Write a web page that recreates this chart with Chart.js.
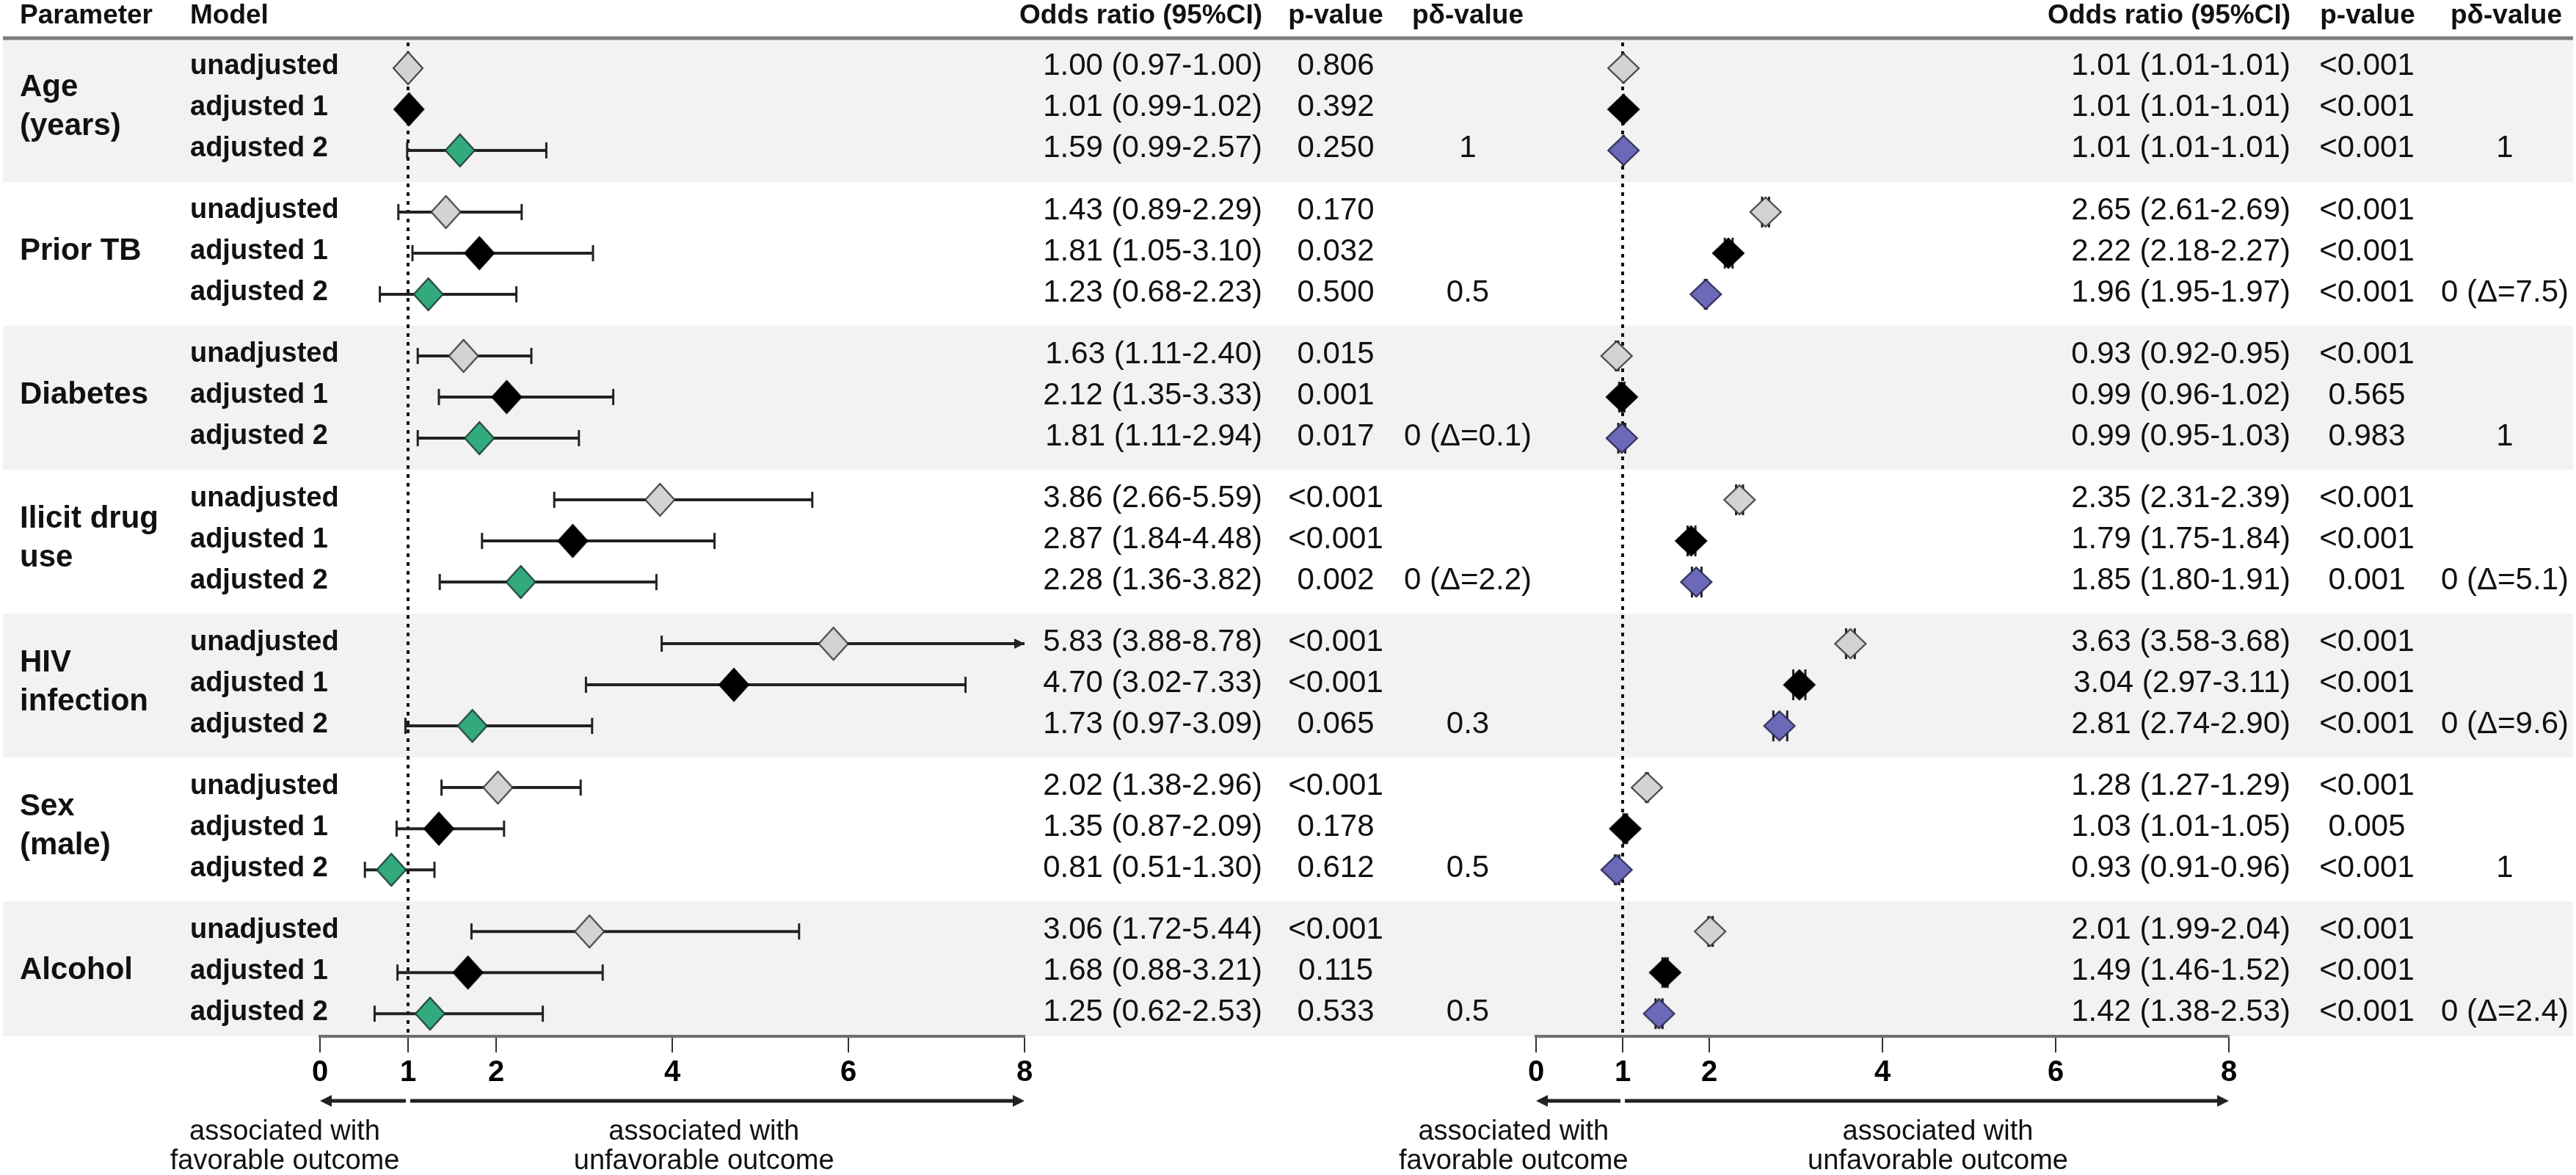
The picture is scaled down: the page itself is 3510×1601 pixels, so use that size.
<!DOCTYPE html>
<html>
<head>
<meta charset="utf-8">
<script src="https://cdn.jsdelivr.net/npm/chart.js@4.4.1/dist/chart.umd.min.js"></script>
<style>
  html, body { margin: 0; padding: 0; background: #fff; }
  canvas { display: block; }
</style>
</head>
<body>
<canvas id="forest" width="3510" height="1601"></canvas>
<script>
const FONT = '"Liberation Sans", Arial, sans-serif';

// ---- data ----
const parameters = [["Age", "(years)"], ["Prior TB"], ["Diabetes"], ["Ilicit drug", "use"], ["HIV", "infection"], ["Sex", "(male)"], ["Alcohol"]];
const models = ["unadjusted", "adjusted 1", "adjusted 2"];
const tickValues = [0, 1, 2, 4, 6, 8];

// left panel (rows = parameter, columns = model)
const orLeft = [[1.00, 1.01, 1.59], [1.43, 1.81, 1.23], [1.63, 2.12, 1.81], [3.86, 2.87, 2.28], [5.83, 4.70, 1.73], [2.02, 1.35, 0.81], [3.06, 1.68, 1.25]];
const loLeft = [[0.97, 0.99, 0.99], [0.89, 1.05, 0.68], [1.11, 1.35, 1.11], [2.66, 1.84, 1.36], [3.88, 3.02, 0.97], [1.38, 0.87, 0.51], [1.72, 0.88, 0.62]];
const hiLeft = [[1.00, 1.02, 2.57], [2.29, 3.10, 2.23], [2.40, 3.33, 2.94], [5.59, 4.48, 3.82], [8.78, 7.33, 3.09], [2.96, 2.09, 1.30], [5.44, 3.21, 2.53]];
const ciLeft = [
  ["1.00 (0.97-1.00)", "1.01 (0.99-1.02)", "1.59 (0.99-2.57)"],
  ["1.43 (0.89-2.29)", "1.81 (1.05-3.10)", "1.23 (0.68-2.23)"],
  ["1.63 (1.11-2.40)", "2.12 (1.35-3.33)", "1.81 (1.11-2.94)"],
  ["3.86 (2.66-5.59)", "2.87 (1.84-4.48)", "2.28 (1.36-3.82)"],
  ["5.83 (3.88-8.78)", "4.70 (3.02-7.33)", "1.73 (0.97-3.09)"],
  ["2.02 (1.38-2.96)", "1.35 (0.87-2.09)", "0.81 (0.51-1.30)"],
  ["3.06 (1.72-5.44)", "1.68 (0.88-3.21)", "1.25 (0.62-2.53)"]
];
const pLeft = [["0.806", "0.392", "0.250"], ["0.170", "0.032", "0.500"], ["0.015", "0.001", "0.017"], ["<0.001", "<0.001", "0.002"], ["<0.001", "<0.001", "0.065"], ["<0.001", "0.178", "0.612"], ["<0.001", "0.115", "0.533"]];
const pdLeft = ["1", "0.5", "0 (Δ=0.1)", "0 (Δ=2.2)", "0.3", "0.5", "0.5"];

// right panel
const orRight = [[1.01, 1.01, 1.01], [2.65, 2.22, 1.96], [0.93, 0.99, 0.99], [2.35, 1.79, 1.85], [3.63, 3.04, 2.81], [1.28, 1.03, 0.93], [2.01, 1.49, 1.42]];
const loRight = [[1.01, 1.01, 1.01], [2.61, 2.18, 1.95], [0.92, 0.96, 0.95], [2.31, 1.75, 1.80], [3.58, 2.97, 2.74], [1.27, 1.01, 0.91], [1.99, 1.46, 1.38]];
const hiRight = [[1.01, 1.01, 1.01], [2.69, 2.27, 1.97], [0.95, 1.02, 1.03], [2.39, 1.84, 1.91], [3.68, 3.11, 2.90], [1.29, 1.05, 0.96], [2.04, 1.52, 1.46]];
const ciRight = [
  ["1.01 (1.01-1.01)", "1.01 (1.01-1.01)", "1.01 (1.01-1.01)"],
  ["2.65 (2.61-2.69)", "2.22 (2.18-2.27)", "1.96 (1.95-1.97)"],
  ["0.93 (0.92-0.95)", "0.99 (0.96-1.02)", "0.99 (0.95-1.03)"],
  ["2.35 (2.31-2.39)", "1.79 (1.75-1.84)", "1.85 (1.80-1.91)"],
  ["3.63 (3.58-3.68)", "3.04 (2.97-3.11)", "2.81 (2.74-2.90)"],
  ["1.28 (1.27-1.29)", "1.03 (1.01-1.05)", "0.93 (0.91-0.96)"],
  ["2.01 (1.99-2.04)", "1.49 (1.46-1.52)", "1.42 (1.38-2.53)"]
];
const pRight = [["<0.001", "<0.001", "<0.001"], ["<0.001", "<0.001", "<0.001"], ["<0.001", "0.565", "0.983"], ["<0.001", "<0.001", "0.001"], ["<0.001", "<0.001", "<0.001"], ["<0.001", "0.005", "<0.001"], ["<0.001", "<0.001", "<0.001"]];
const pdRight = ["1", "0 (Δ=7.5)", "1", "0 (Δ=5.1)", "0 (Δ=9.6)", "1", "0 (Δ=2.4)"];

// ---- layout ----
const groupStep = 3.5;
const bandAbove = 0.73, bandBelow = 0.77;
const rowPos = (g, m) => g * groupStep + m;
const axisBand = 189;

function makeDiamond(w, h, fill, stroke) {
  const c = document.createElement('canvas');
  c.width = w + 4; c.height = h + 4;
  const g = c.getContext('2d');
  const cx = c.width / 2, cy = c.height / 2;
  g.beginPath();
  g.moveTo(cx, cy - h / 2); g.lineTo(cx + w / 2, cy); g.lineTo(cx, cy + h / 2); g.lineTo(cx - w / 2, cy);
  g.closePath();
  g.fillStyle = fill; g.fill();
  g.lineWidth = 2; g.strokeStyle = stroke; g.stroke();
  return c;
}

const panels = [
  {
    axis: 'xL', left: 436, right: 1396, or: orLeft, lo: loLeft, hi: hiLeft, ci: ciLeft, p: pLeft, pd: pdLeft,
    ciX: 1720, pX: 1820, pdX: 2000, capHalf: 11, captionAt: [-0.4, 4.36],
    heads: [["Odds ratio (95%CI)", 1720, 'right'], ["p-value", 1820, 'center'], ["pδ-value", 2000, 'center']],
    fills: ['#d3d3d3', '#000000', '#33a97e'], strokes: ['#3c3c3c', '#000000', '#1f3f33'], dw: 40, dh: 44
  },
  {
    axis: 'xR', left: 2093, right: 3037, or: orRight, lo: loRight, hi: hiRight, ci: ciRight, p: pRight, pd: pdRight,
    ciX: 3121, pX: 3225, pdX: 3413, capHalf: 21, captionAt: [-0.26, 4.64],
    heads: [["Odds ratio (95%CI)", 3121, 'right'], ["p-value", 3226, 'center'], ["pδ-value", 3415, 'center']],
    fills: ['#d3d3d3', '#000000', '#6b69b8'], strokes: ['#3c3c3c', '#000000', '#2a2950'], dw: 42, dh: 40
  }
];

const datasets = [];
panels.forEach(p => {
  models.forEach((model, m) => {
    datasets.push({
      label: model,
      xAxisID: p.axis,
      yAxisID: 'y',
      data: p.or.map((row, g) => ({ x: row[m], y: rowPos(g, m) })),
      pointStyle: makeDiamond(p.dw, p.dh, p.fills[m], p.strokes[m]),
      pointRadius: 20,
      pointHoverRadius: 20,
      showLine: false,
      clip: false
    });
  });
});

function text(ctx, str, x, y, align, font) {
  ctx.font = font;
  ctx.textAlign = align;
  ctx.textBaseline = 'middle';
  ctx.fillStyle = '#111';
  ctx.fillText(str, x, y);
}

function arrowHead(ctx, x, y, dir, len, half) {
  ctx.beginPath();
  ctx.moveTo(x, y);
  ctx.lineTo(x - dir * len, y - half);
  ctx.lineTo(x - dir * len, y + half);
  ctx.closePath();
  ctx.fill();
}

const forestTable = {
  id: 'forestTable',
  afterLayout(chart) {
    const base = chart.chartArea.bottom;
    panels.forEach(p => {
      const s = chart.scales[p.axis];
      s.left = p.left; s.right = p.right; s.width = p.right - p.left;
      s.top = base; s.bottom = base + axisBand; s.height = axisBand;
      s.configure();
    });
  },
  beforeDraw(chart) {
    const { ctx, chartArea: area, scales: { y } } = chart;
    ctx.save();
    ctx.fillStyle = '#fff';
    ctx.fillRect(0, 0, chart.width, chart.height);

    // shaded bands
    parameters.forEach((lab, g) => {
      if (g % 2) return;
      const t = y.getPixelForValue(Math.max(rowPos(g, 0) - bandAbove, y.min));
      const b = y.getPixelForValue(Math.min(rowPos(g, 2) + bandBelow, y.max));
      ctx.fillStyle = '#f2f2f2';
      ctx.fillRect(4, t, chart.width - 8, b - t);
    });

    // header rule
    ctx.strokeStyle = '#7d7d7d';
    ctx.lineWidth = 5;
    ctx.beginPath();
    ctx.moveTo(4, area.top);
    ctx.lineTo(chart.width - 4, area.top);
    ctx.stroke();

    const headFont = 'bold 37px ' + FONT;
    text(ctx, 'Parameter', 27, 22, 'left', headFont);
    text(ctx, 'Model', 259, 22, 'left', headFont);
    panels.forEach(p => p.heads.forEach(([s, x, al]) => text(ctx, s, x, 22, al, headFont)));

    // parameter and model labels
    parameters.forEach((lines, g) => {
      const yc = y.getPixelForValue(rowPos(g, 1)) - 3;
      lines.forEach((ln, i) => {
        text(ctx, ln, 27, yc + (i - (lines.length - 1) / 2) * 53, 'left', 'bold 42px ' + FONT);
      });
      models.forEach((md, m) => {
        text(ctx, md, 259, y.getPixelForValue(rowPos(g, m)) - 2, 'left', 'bold 38px ' + FONT);
      });
    });

    // value columns
    const valFont = '42px ' + FONT;
    panels.forEach(p => {
      parameters.forEach((lab, g) => {
        models.forEach((md, m) => {
          const yy = y.getPixelForValue(rowPos(g, m)) - 2;
          text(ctx, p.ci[g][m], p.ciX, yy, 'right', valFont);
          text(ctx, p.p[g][m], p.pX, yy, 'center', valFont);
        });
        text(ctx, p.pd[g], p.pdX, y.getPixelForValue(rowPos(g, 2)) - 2, 'center', valFont);
      });
    });
    ctx.restore();
  },
  beforeDatasetsDraw(chart) {
    const { ctx, chartArea: area, scales } = chart;
    const y = scales.y;
    ctx.save();
    panels.forEach(p => {
      const xs = scales[p.axis];
      // reference line at OR = 1
      const x1 = xs.getPixelForValue(1);
      ctx.strokeStyle = '#111';
      ctx.lineWidth = 4;
      ctx.setLineDash([5, 7]);
      ctx.beginPath();
      ctx.moveTo(x1, area.top + 6);
      ctx.lineTo(x1, area.bottom);
      ctx.stroke();
      ctx.setLineDash([]);

      // confidence intervals
      ctx.strokeStyle = '#222';
      ctx.fillStyle = '#222';
      p.or.forEach((row, g) => {
        row.forEach((v, m) => {
          const yy = y.getPixelForValue(rowPos(g, m));
          const lo = p.lo[g][m], hi = p.hi[g][m];
          const xa = xs.getPixelForValue(Math.max(lo, xs.min));
          const xb = xs.getPixelForValue(Math.min(hi, xs.max));
          ctx.lineWidth = 4;
          ctx.beginPath();
          ctx.moveTo(xa, yy); ctx.lineTo(xb, yy);
          ctx.stroke();
          ctx.lineWidth = 3;
          if (lo >= xs.min) {
            ctx.beginPath(); ctx.moveTo(xa, yy - p.capHalf); ctx.lineTo(xa, yy + p.capHalf); ctx.stroke();
          }
          if (hi <= xs.max) {
            ctx.beginPath(); ctx.moveTo(xb, yy - p.capHalf); ctx.lineTo(xb, yy + p.capHalf); ctx.stroke();
          } else {
            arrowHead(ctx, xb, yy, 1, 14, 7);
          }
        });
      });
    });
    ctx.restore();
  },
  afterDraw(chart) {
    const { ctx, scales } = chart;
    ctx.save();
    const ay = 1500;
    panels.forEach(p => {
      const xs = scales[p.axis];
      const x0 = xs.getPixelForValue(0), x1 = xs.getPixelForValue(1), x8 = xs.getPixelForValue(8);
      ctx.strokeStyle = '#222';
      ctx.fillStyle = '#222';
      ctx.lineWidth = 5;
      ctx.beginPath(); ctx.moveTo(x1 - 3, ay); ctx.lineTo(x0 + 8, ay); ctx.stroke();
      ctx.beginPath(); ctx.moveTo(x1 + 3, ay); ctx.lineTo(x8 - 8, ay); ctx.stroke();
      arrowHead(ctx, x0, ay, -1, 16, 8);
      arrowHead(ctx, x8, ay, 1, 16, 8);

      const capFont = '38px ' + FONT;
      const cf = xs.getPixelForValue(p.captionAt[0]);
      const cu = xs.getPixelForValue(p.captionAt[1]);
      text(ctx, 'associated with', cf, 1543, 'center', capFont);
      text(ctx, 'favorable outcome', cf, 1583, 'center', capFont);
      text(ctx, 'associated with', cu, 1543, 'center', capFont);
      text(ctx, 'unfavorable outcome', cu, 1583, 'center', capFont);
    });
    ctx.restore();
  }
};

function axisOptions(height) {
  return {
    type: 'linear',
    position: 'bottom',
    min: 0,
    max: 8,
    afterBuildTicks: s => { s.ticks = tickValues.map(v => ({ value: v })); },
    afterFit: s => { s.height = height; },
    grid: { drawOnChartArea: false, drawTicks: true, tickLength: 22, lineWidth: 2, color: '#333' },
    border: { display: true, color: '#707070', width: 4 },
    ticks: {
      font: { family: FONT, size: 40, weight: 'bold' },
      color: '#000',
      padding: 4,
      maxRotation: 0,
      autoSkip: false
    }
  };
}

new Chart(document.getElementById('forest'), {
  type: 'scatter',
  data: { datasets },
  options: {
    responsive: false,
    animation: false,
    devicePixelRatio: 1,
    layout: { padding: { top: 52, left: 0, right: 0, bottom: 0 } },
    events: [],
    plugins: {
      legend: { display: false },
      tooltip: { enabled: false }
    },
    scales: {
      xL: axisOptions(axisBand),
      xR: axisOptions(0),
      y: { type: 'linear', reverse: true, min: -bandAbove, max: 23.55, display: false }
    }
  },
  plugins: [forestTable]
});
</script>
</body>
</html>
